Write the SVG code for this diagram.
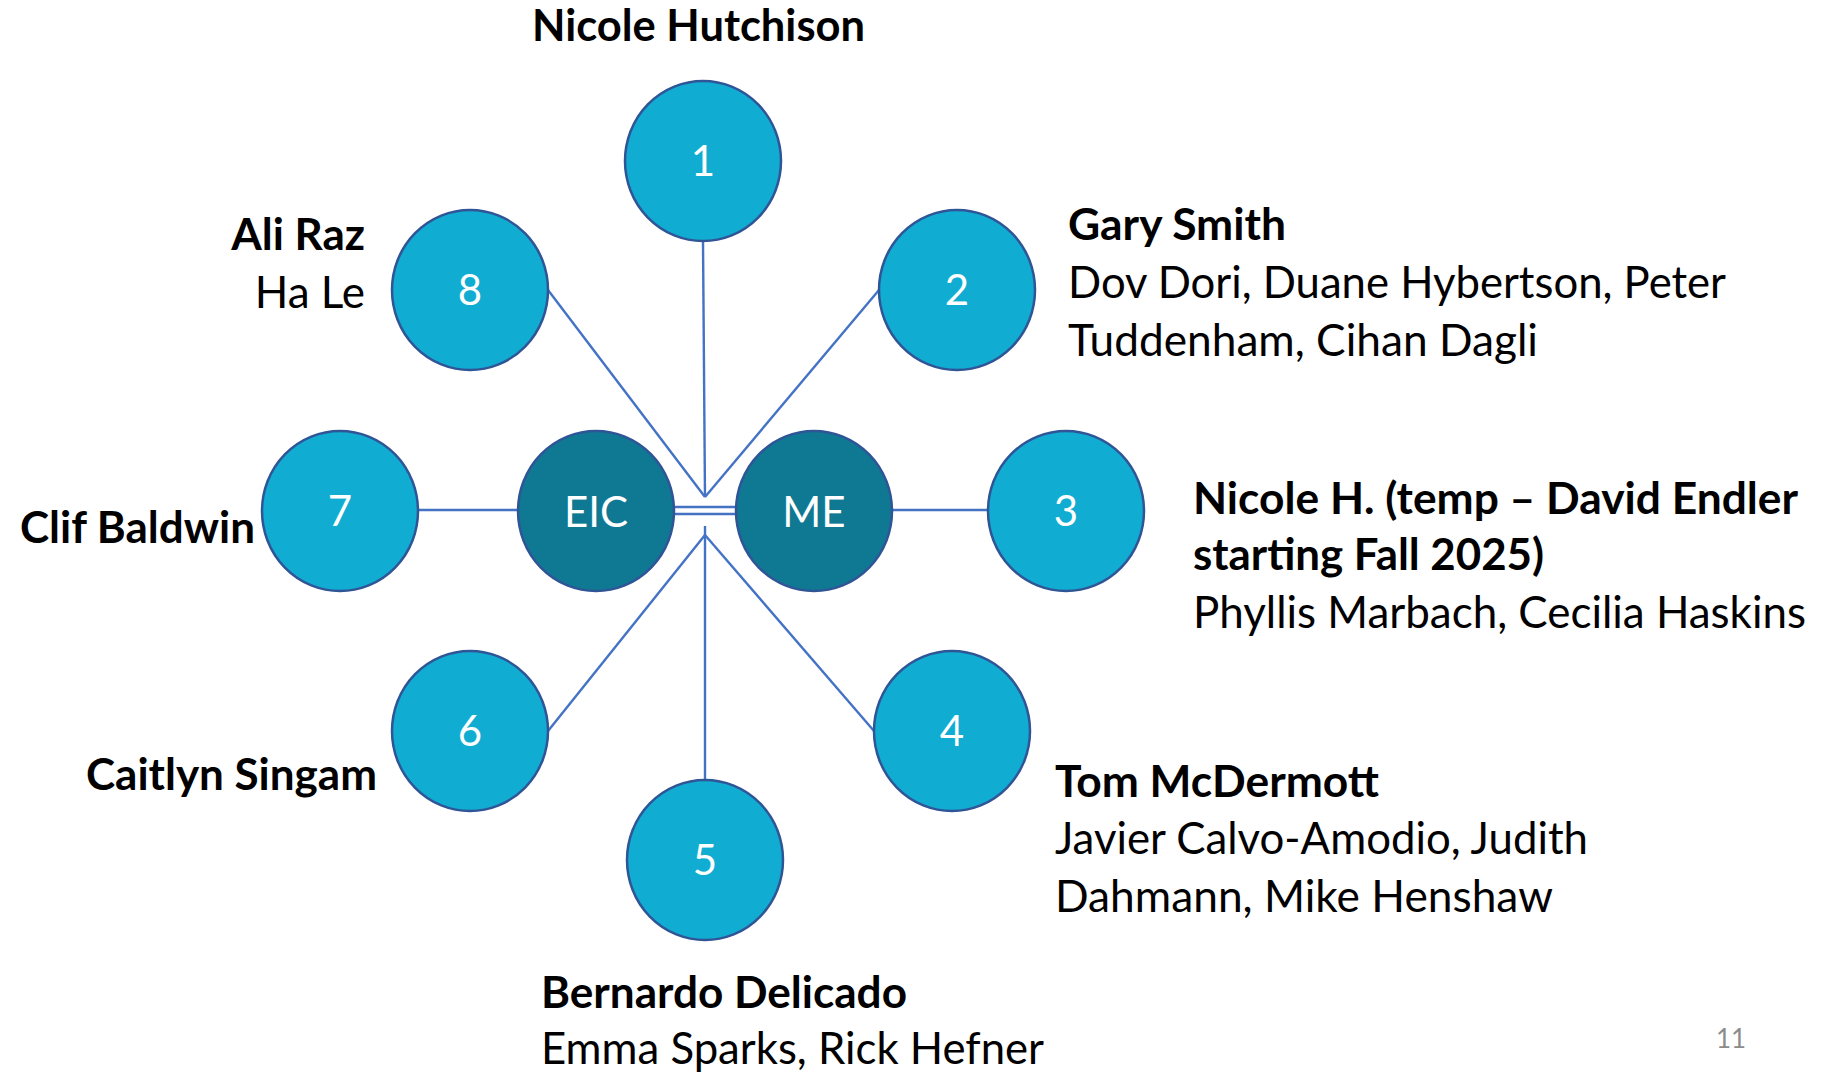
<svg xmlns="http://www.w3.org/2000/svg" width="1840" height="1072" viewBox="0 0 1840 1072">
<style>
.n{fill:#11acd1;stroke:#2f5597;stroke-width:2.5}
.d{fill:#0f7893;stroke:#2f5597;stroke-width:2.5}
.num{font-family:Lato,"Liberation Sans",sans-serif;font-size:42px;fill:#ffffff;text-anchor:middle}
.b{font-family:Lato,"Liberation Sans",sans-serif;font-size:44px;font-weight:bold;fill:#000}
.r{font-family:Lato,"Liberation Sans",sans-serif;font-size:44px;fill:#000}
.c line{stroke:#4472c4;stroke-width:2.4}
</style>
<rect width="1840" height="1072" fill="#ffffff"/>
<g class="c" id="connectors">
<line x1="703" y1="241" x2="705" y2="497"/>
<line x1="548" y1="290" x2="705" y2="497"/>
<line x1="879" y1="290" x2="705" y2="497"/>
<line x1="705" y1="526" x2="705" y2="780"/>
<line x1="548" y1="731" x2="705" y2="535"/>
<line x1="874" y1="731" x2="705" y2="535"/>
<line x1="418" y1="510" x2="518" y2="510"/>
<line x1="892" y1="510" x2="988" y2="510"/>
<line x1="674" y1="507" x2="736" y2="507"/>
<line x1="674" y1="514" x2="736" y2="514"/>
</g>
<g id="node1"><ellipse class="n" cx="703" cy="161" rx="78" ry="80"/><text class="num" x="703" y="176">1</text></g>
<g id="node2"><ellipse class="n" cx="957" cy="290" rx="78" ry="80"/><text class="num" x="957" y="305">2</text></g>
<g id="node3"><ellipse class="n" cx="1066" cy="511" rx="78" ry="80"/><text class="num" x="1066" y="526">3</text></g>
<g id="node4"><ellipse class="n" cx="952" cy="731" rx="78" ry="80"/><text class="num" x="952" y="746">4</text></g>
<g id="node5"><ellipse class="n" cx="705" cy="860" rx="78" ry="80"/><text class="num" x="705" y="875">5</text></g>
<g id="node6"><ellipse class="n" cx="470" cy="731" rx="78" ry="80"/><text class="num" x="470" y="746">6</text></g>
<g id="node7"><ellipse class="n" cx="340" cy="511" rx="78" ry="80"/><text class="num" x="340" y="526">7</text></g>
<g id="node8"><ellipse class="n" cx="470" cy="290" rx="78" ry="80"/><text class="num" x="470" y="305">8</text></g>
<g id="EIC"><ellipse class="d" cx="596" cy="511" rx="78" ry="80"/><text class="num" x="596" y="527">EIC</text></g>
<g id="ME"><ellipse class="d" cx="814" cy="511" rx="78" ry="80"/><text class="num" x="814" y="527">ME</text></g>
<g id="labels">
<text class="b" x="532" y="41" textLength="333" lengthAdjust="spacingAndGlyphs">Nicole Hutchison</text>
<text class="b" x="365" y="250" text-anchor="end">Ali Raz</text>
<text class="r" x="365" y="308" text-anchor="end">Ha Le</text>
<text class="b" x="1068" y="240" textLength="218" lengthAdjust="spacingAndGlyphs">Gary Smith</text>
<text class="r" x="1068" y="298" textLength="658" lengthAdjust="spacingAndGlyphs">Dov Dori, Duane Hybertson, Peter</text>
<text class="r" x="1068" y="356" textLength="470" lengthAdjust="spacingAndGlyphs">Tuddenham, Cihan Dagli</text>
<text class="b" x="20" y="543" textLength="235" lengthAdjust="spacingAndGlyphs">Clif Baldwin</text>
<text class="b" x="1193" y="514" textLength="605" lengthAdjust="spacingAndGlyphs">Nicole H. (temp – David Endler</text>
<text class="b" x="1193" y="570" textLength="351" lengthAdjust="spacingAndGlyphs">starting Fall 2025)</text>
<text class="r" x="1193" y="628" textLength="613" lengthAdjust="spacingAndGlyphs">Phyllis Marbach, Cecilia Haskins</text>
<text class="b" x="86" y="790" textLength="291" lengthAdjust="spacingAndGlyphs">Caitlyn Singam</text>
<text class="b" x="1055" y="797" textLength="324" lengthAdjust="spacingAndGlyphs">Tom McDermott</text>
<text class="r" x="1055" y="854" textLength="533" lengthAdjust="spacingAndGlyphs">Javier Calvo-Amodio, Judith</text>
<text class="r" x="1055" y="912" textLength="498" lengthAdjust="spacingAndGlyphs">Dahmann, Mike Henshaw</text>
<text class="b" x="541" y="1008" textLength="366" lengthAdjust="spacingAndGlyphs">Bernardo Delicado</text>
<text class="r" x="541" y="1064" textLength="503" lengthAdjust="spacingAndGlyphs">Emma Sparks, Rick Hefner</text>
<text x="1716" y="1048" font-family="Lato,'Liberation Sans',sans-serif" font-size="26" fill="#8c8c8c">11</text>
</g>
</svg>
